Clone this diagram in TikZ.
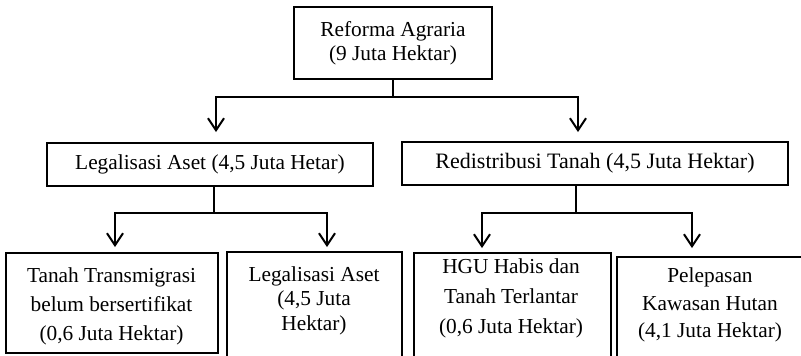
\documentclass[tikz,border=0pt]{standalone}
\usepackage{fontspec}
\setmainfont{Liberation Serif}
\usetikzlibrary{arrows.meta}
\begin{document}
\begin{tikzpicture}[x=0.75pt,y=-0.75pt,
  box/.style={draw, line width=1.5pt, inner sep=0pt, outer sep=0pt},
  txt/.style={align=center, inner sep=0pt},
  conn/.style={line width=1.5pt},
  arr/.style={line width=1.5pt, -{Straight Barb[length=9pt,width=12pt]}}]
\useasboundingbox (0,0) rectangle (801,355);
\clip (0,0) rectangle (801,355);
% boxes
\node[box, minimum width=148.5pt, minimum height=54pt, txt, font=\fontsize{16}{18}\selectfont] (top) at (393,43) {Reforma Agraria\\(9 Juta Hektar)};
\node[box, minimum width=244.5pt, minimum height=32.25pt, font=\fontsize{16}{18}\selectfont] (leg) at (210,164.5) {Legalisasi Aset (4,5 Juta Hetar)};
\node[box, minimum width=289.5pt, minimum height=32.25pt, font=\fontsize{16.5}{18}\selectfont] (red) at (595,163.5) {Redistribusi Tanah (4,5 Juta Hektar)};
\node[box, minimum width=159pt, minimum height=75pt] (b1) at (112,303) {};
\node[box, minimum width=131.25pt, minimum height=96pt] (b2) at (314.5,316) {};
\node[box, minimum width=147.75pt, minimum height=95.25pt] (b3) at (512.5,316.5) {};
\node[box, minimum width=139.5pt, minimum height=92.25pt] (b4) at (710,318.5) {};
% texts
\node[txt, font=\fontsize{16}{21.5}\selectfont] (t1) at (111.5,306.5) {Tanah Transmigrasi\\belum bersertifikat\\(0,6 Juta Hektar)};
\node[txt, font=\fontsize{16}{18.4}\selectfont] (t2) at (314,300.5) {Legalisasi Aset\\(4,5 Juta\\Hektar)};
\node[txt, font=\fontsize{16}{22.5}\selectfont] (t3) at (511,298.5) {HGU Habis dan\\Tanah Terlantar\\(0,6 Juta Hektar)};
\node[txt, font=\fontsize{16}{20.6}\selectfont] (t4) at (710,305) {Pelepasan\\Kawasan Hutan\\(4,1 Juta Hektar)};
% junctions and arrow ends
\coordinate (j1) at (393,97);
\coordinate (e1) at (216,132);
\coordinate (e2) at (578,132);
\coordinate (j2) at (214,213);
\coordinate (e3) at (115,247);
\coordinate (e4) at (327,247);
\coordinate (j3) at (576,213);
\coordinate (e5) at (482,248);
\coordinate (e6) at (692,248);
% connectors
\draw[conn] (top.south) -- (j1);
\draw[arr] (j1) -| (e1);
\draw[arr] (j1) -| (e2);
\draw[conn] (leg.south -| j2) -- (j2);
\draw[arr] (j2) -| (e3);
\draw[arr] (j2) -| (e4);
\draw[conn] (red.south -| j3) -- (j3);
\draw[arr] (j3) -| (e5);
\draw[arr] (j3) -| (e6);
\end{tikzpicture}
\end{document}
